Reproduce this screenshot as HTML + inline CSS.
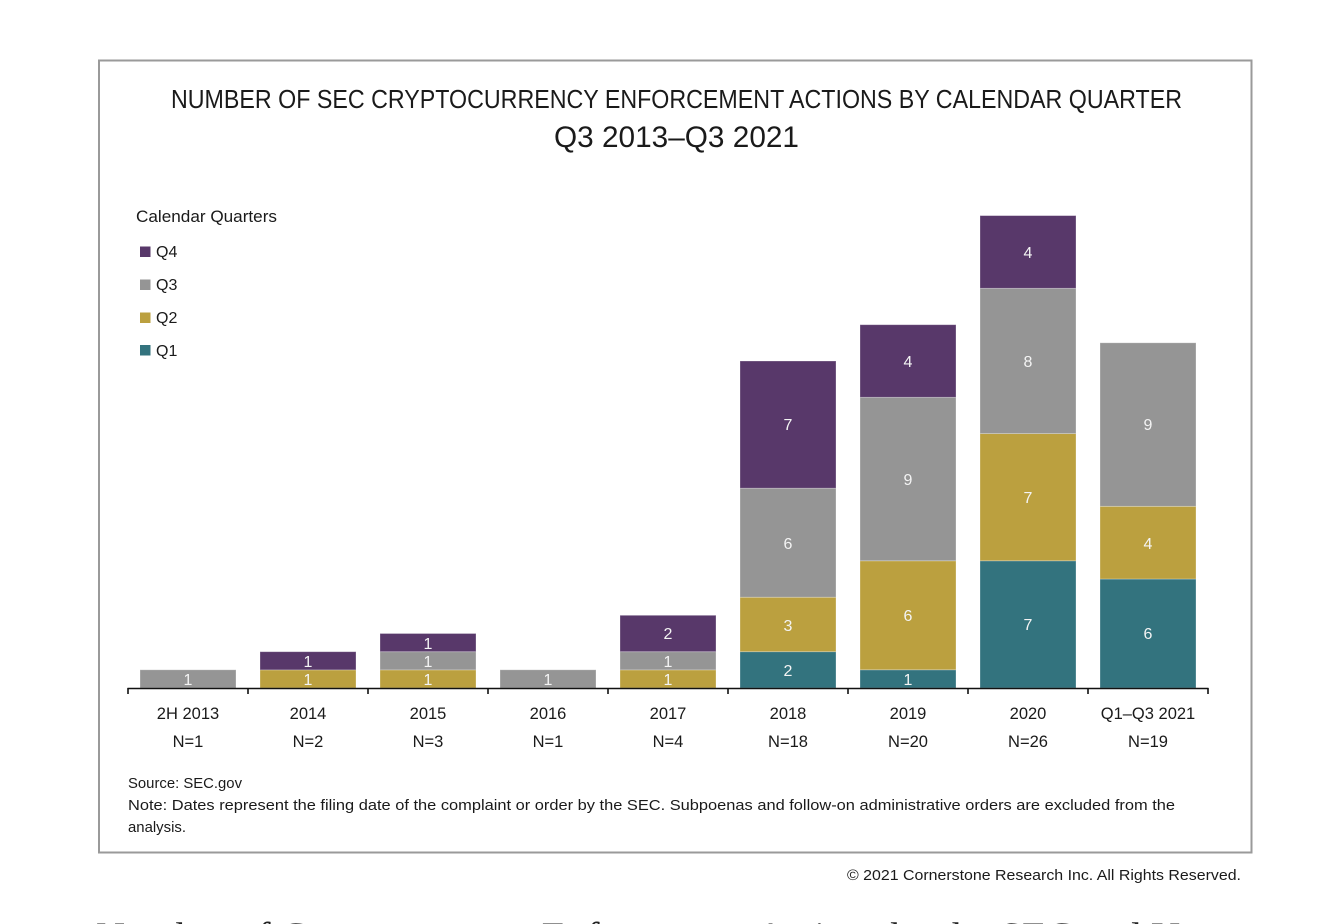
<!DOCTYPE html>
<html>
<head>
<meta charset="utf-8">
<style>
  html, body { margin:0; padding:0; background:#fff; }
  body { width:1330px; height:924px; overflow:hidden; }
  svg { display:block; }
  .s { font-family: "Liberation Sans", sans-serif; }
  .serif { font-family: "Liberation Serif", serif; }
</style>
</head>
<body>
<svg width="1330" height="924" viewBox="0 0 1330 924" xmlns="http://www.w3.org/2000/svg">
  <rect x="0" y="0" width="1330" height="924" fill="#fff"/>
  <!-- frame -->
  <rect x="99" y="60.5" width="1152.5" height="792" fill="none" stroke="#9a9a9a" stroke-width="2"/>

  <g class="s">
  <!-- titles -->
  <text x="171" y="108" font-size="26" fill="#1a1a1a" textLength="1011" lengthAdjust="spacingAndGlyphs">NUMBER OF SEC CRYPTOCURRENCY ENFORCEMENT ACTIONS BY CALENDAR QUARTER</text>
  <text x="554" y="147" font-size="30" fill="#1a1a1a" textLength="245" lengthAdjust="spacingAndGlyphs">Q3 2013–Q3 2021</text>

  <!-- legend -->
  <text x="136" y="222" font-size="16.5" fill="#1a1a1a" textLength="141" lengthAdjust="spacingAndGlyphs">Calendar Quarters</text>
  <rect x="140" y="246.5" width="10.5" height="10.5" fill="#58386A"/>
  <text x="156" y="257" font-size="16" fill="#1a1a1a">Q4</text>
  <rect x="140" y="279.5" width="10.5" height="10.5" fill="#959595"/>
  <text x="156" y="290" font-size="16" fill="#1a1a1a">Q3</text>
  <rect x="140" y="312.5" width="10.5" height="10.5" fill="#BBA03F"/>
  <text x="156" y="323" font-size="16" fill="#1a1a1a">Q2</text>
  <rect x="140" y="345" width="10.5" height="10.5" fill="#33737E"/>
  <text x="156" y="356" font-size="16" fill="#1a1a1a">Q1</text>

  <!-- bars -->
  <g stroke="rgba(255,255,255,0.35)" stroke-width="0.8">
    <rect x="140" y="669.8" width="96" height="18.2" fill="#959595"/>
    <rect x="260" y="669.8" width="96" height="18.2" fill="#BBA03F"/>
    <rect x="260" y="651.7" width="96" height="18.2" fill="#58386A"/>
    <rect x="380" y="669.8" width="96" height="18.2" fill="#BBA03F"/>
    <rect x="380" y="651.7" width="96" height="18.2" fill="#959595"/>
    <rect x="380" y="633.5" width="96" height="18.2" fill="#58386A"/>
    <rect x="500" y="669.8" width="96" height="18.2" fill="#959595"/>
    <rect x="620" y="669.8" width="96" height="18.2" fill="#BBA03F"/>
    <rect x="620" y="651.7" width="96" height="18.2" fill="#959595"/>
    <rect x="620" y="615.3" width="96" height="36.4" fill="#58386A"/>
    <rect x="740" y="651.7" width="96" height="36.3" fill="#33737E"/>
    <rect x="740" y="597.2" width="96" height="54.5" fill="#BBA03F"/>
    <rect x="740" y="488.2" width="96" height="109" fill="#959595"/>
    <rect x="740" y="361" width="96" height="127.2" fill="#58386A"/>
    <rect x="860" y="669.8" width="96" height="18.2" fill="#33737E"/>
    <rect x="860" y="560.8" width="96" height="109" fill="#BBA03F"/>
    <rect x="860" y="397.3" width="96" height="163.5" fill="#959595"/>
    <rect x="860" y="324.7" width="96" height="72.6" fill="#58386A"/>
    <rect x="980" y="560.8" width="96" height="127.2" fill="#33737E"/>
    <rect x="980" y="433.6" width="96" height="127.2" fill="#BBA03F"/>
    <rect x="980" y="288.3" width="96" height="145.3" fill="#959595"/>
    <rect x="980" y="215.6" width="96" height="72.7" fill="#58386A"/>
    <rect x="1100" y="579" width="96" height="109" fill="#33737E"/>
    <rect x="1100" y="506.3" width="96" height="72.7" fill="#BBA03F"/>
    <rect x="1100" y="342.8" width="96" height="163.5" fill="#959595"/>
  </g>

  <!-- data labels -->
  <g font-size="16" fill="#f4f4f4" text-anchor="middle">
    <text x="188" y="685">1</text>
    <text x="308" y="685">1</text>
    <text x="308" y="667">1</text>
    <text x="428" y="685">1</text>
    <text x="428" y="667">1</text>
    <text x="428" y="649">1</text>
    <text x="548" y="685">1</text>
    <text x="668" y="685">1</text>
    <text x="668" y="667">1</text>
    <text x="668" y="639">2</text>
    <text x="788" y="676">2</text>
    <text x="788" y="631">3</text>
    <text x="788" y="549">6</text>
    <text x="788" y="430">7</text>
    <text x="908" y="685">1</text>
    <text x="908" y="621">6</text>
    <text x="908" y="485">9</text>
    <text x="908" y="367">4</text>
    <text x="1028" y="630">7</text>
    <text x="1028" y="503">7</text>
    <text x="1028" y="367">8</text>
    <text x="1028" y="258">4</text>
    <text x="1148" y="639">6</text>
    <text x="1148" y="549">4</text>
    <text x="1148" y="430">9</text>
  </g>

  <!-- axis -->
  <g stroke="#111" stroke-width="1.6">
    <line x1="127.5" y1="688.5" x2="1208.5" y2="688.5"/>
    <line x1="128" y1="688" x2="128" y2="694"/>
    <line x1="248" y1="688" x2="248" y2="694"/>
    <line x1="368" y1="688" x2="368" y2="694"/>
    <line x1="488" y1="688" x2="488" y2="694"/>
    <line x1="608" y1="688" x2="608" y2="694"/>
    <line x1="728" y1="688" x2="728" y2="694"/>
    <line x1="848" y1="688" x2="848" y2="694"/>
    <line x1="968" y1="688" x2="968" y2="694"/>
    <line x1="1088" y1="688" x2="1088" y2="694"/>
    <line x1="1208" y1="688" x2="1208" y2="694"/>
  </g>

  <!-- category labels -->
  <g font-size="16.5" fill="#1a1a1a" text-anchor="middle">
    <text x="188" y="719">2H 2013</text>
    <text x="308" y="719">2014</text>
    <text x="428" y="719">2015</text>
    <text x="548" y="719">2016</text>
    <text x="668" y="719">2017</text>
    <text x="788" y="719">2018</text>
    <text x="908" y="719">2019</text>
    <text x="1028" y="719">2020</text>
    <text x="1148" y="719">Q1–Q3 2021</text>
    <text x="188" y="747">N=1</text>
    <text x="308" y="747">N=2</text>
    <text x="428" y="747">N=3</text>
    <text x="548" y="747">N=1</text>
    <text x="668" y="747">N=4</text>
    <text x="788" y="747">N=18</text>
    <text x="908" y="747">N=20</text>
    <text x="1028" y="747">N=26</text>
    <text x="1148" y="747">N=19</text>
  </g>

  <!-- source / note -->
  <g font-size="15" fill="#1a1a1a">
    <text x="128" y="788" textLength="114" lengthAdjust="spacingAndGlyphs">Source: SEC.gov</text>
    <text x="128" y="810" textLength="1047" lengthAdjust="spacingAndGlyphs">Note: Dates represent the filing date of the complaint or order by the SEC. Subpoenas and follow-on administrative orders are excluded from the</text>
    <text x="128" y="832" textLength="58" lengthAdjust="spacingAndGlyphs">analysis.</text>
  </g>

  <!-- copyright -->
  <text x="847" y="880" font-size="15" fill="#1a1a1a" textLength="394" lengthAdjust="spacingAndGlyphs">© 2021 Cornerstone Research Inc. All Rights Reserved.</text>
  </g>

  <!-- cut-off heading at bottom -->
  <text class="serif" x="96" y="950" font-size="40" fill="#222" textLength="1084" lengthAdjust="spacingAndGlyphs">Number of Cryptocurrency Enforcement Actions by the SEC and U</text>
</svg>
</body>
</html>
